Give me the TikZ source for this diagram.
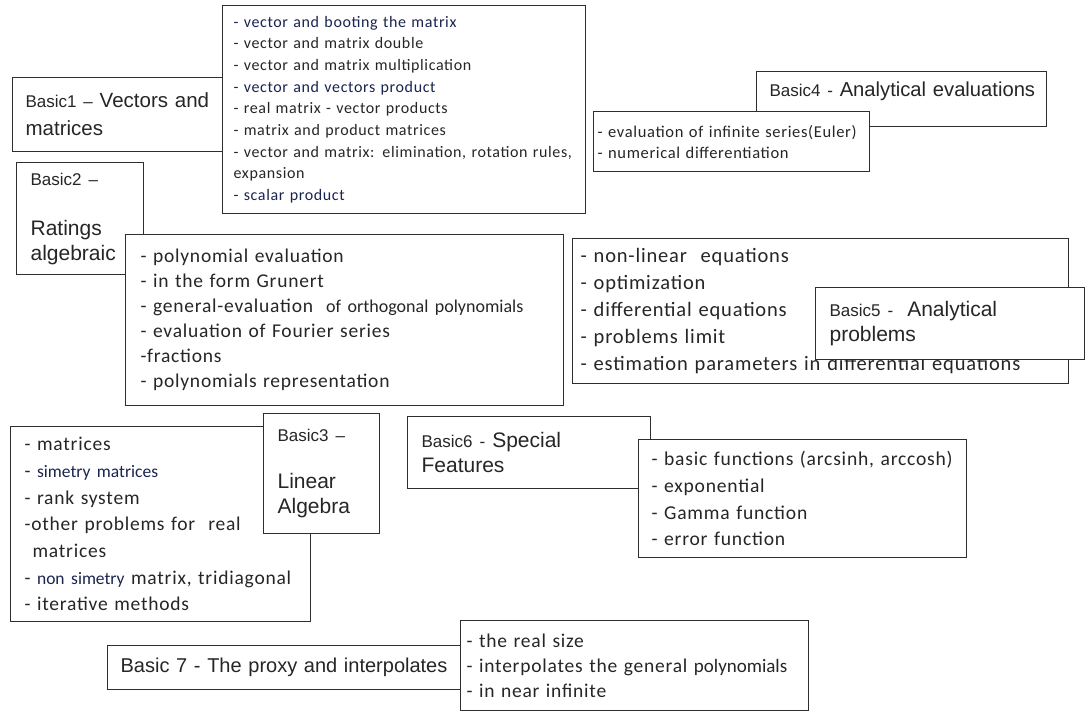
\documentclass[tikz,border=0pt]{standalone}
\usepackage{fontspec}
\usepackage{xcolor}
\usepackage{tikz}
\newfontfamily\arialf{Liberation Sans}
\newfontfamily\calif[LetterSpace=4]{Carlito}
\newfontfamily\calin{Carlito}
\definecolor{framegray}{RGB}{46,46,46}
\definecolor{inkgray}{RGB}{38,38,38}
\definecolor{inknavy}{RGB}{26,36,80}
\newcommand{\bnum}[1]{{\fontsize{17}{20}\selectfont #1}}
\newcommand{\hl}[1]{\textcolor{inknavy}{#1}}
\hyphenpenalty=10000
\exhyphenpenalty=10000

\begin{document}
\begin{tikzpicture}[
    x=1pt, y=-1pt,
    boxframe/.style={
      rectangle, draw=framegray, line width=1.2pt, fill=white,
      anchor=north west, align=left, inner ysep=0pt, text=inkgray
    },
    titlebox/.style={boxframe, font=\arialf\fontsize{21}{25}\selectfont, inner xsep=14pt},
    listbox/.style 2 args={boxframe, font=\calif\fontsize{#1}{#2}\selectfont}
  ]
    \fill[white] (0,0) rectangle (1085,711);
    \useasboundingbox (0,0) rectangle (1085,711);
    \node[titlebox, font=\arialf\fontsize{20.5}{28}\selectfont, inner xsep=13pt, text width=184pt, minimum height=74pt] (basic1) at (12,77) {\mbox{\bnum{Basic1 –} Vectors and}\\matrices};
    \node[listbox={16}{21.7}, inner xsep=11pt, text width=341pt, minimum height=208pt] (list1) at (222,5)
      {\hl{- vector and booting the matrix}\\- vector and matrix double\\- vector and matrix multiplication\\\hl{- vector and vectors product}\\- real matrix - vector products\\- matrix and product matrices\\- vector and matrix: elimination, rotation~rules,\\expansion\\\hl{- scalar product}};
    \node[titlebox, text width=99pt, minimum height=112pt] (basic2) at (16,162) {\bnum{Basic2 –}\\[25pt]Ratings\\algebraic};
    \node[listbox={19.5}{25}, inner xsep=15pt, text width=408pt, minimum height=171pt] (list2) at (125,234)
      {- polynomial evaluation\\- in the form Grunert\\- general-evaluation\ \ {\calin\fontsize{18}{25}\selectfont of orthogonal polynomials}\\- evaluation of Fourier series\\-fractions\\- polynomials representation};
    \node[titlebox, font=\arialf\fontsize{20.2}{25}\selectfont, inner xsep=13pt, text width=264pt, minimum height=55pt, text depth=20pt] (basic4) at (756,71) {\mbox{\bnum{Basic4 -} Analytical evaluations}};
    \node[listbox={16.5}{21}, inner xsep=4pt, text width=268pt, minimum height=60pt] (list4) at (593,111)
      {- evaluation of infinite series(Euler)\\- numerical differentiation};
    \node[listbox={20.5}{26.8}, inner xsep=8pt, text width=480pt, minimum height=145pt] (list5) at (572,238)
      {- non-linear\ \ equations\\- optimization\\- differential equations\\- problems limit\\- estimation parameters in differential equations};
    \node[titlebox, text width=241pt, minimum height=72pt] (basic5) at (815,287) {\mbox{\bnum{Basic5 -}\ \ Analytical}\\problems};
    \node[listbox={19.5}{26.7}, inner xsep=14pt, text width=272pt, minimum height=195pt] (list3) at (10,426)
      {- matrices\\- {\calin\fontsize{17.5}{26.7}\selectfont\hl{simetry matrices}}\\- rank system\\-other problems for\ \ real\\\hspace*{8pt}matrices\\- {\calin\fontsize{17.5}{26.7}\selectfont\hl{non simetry}} matrix, tridiagonal\\- iterative methods};
    \node[titlebox, text width=88pt, minimum height=120pt] (basic3) at (263,413) {\bnum{Basic3 –}\\[22pt]Linear\\Algebra};
    \node[titlebox, text width=215pt, minimum height=72pt] (basic6) at (407,416) {\mbox{\bnum{Basic6 -} Special}\\Features};
    \node[listbox={19.6}{26.7}, inner xsep=13pt, text width=302pt, minimum height=118pt] (list6) at (638,439)
      {- basic functions (arcsinh, arccosh)\\- exponential\\- Gamma function\\- error function};
    \node[titlebox, font=\arialf\fontsize{20}{25}\selectfont, inner xsep=13pt, text width=339pt, minimum height=44pt] (basic7) at (107,645) {\mbox{Basic 7 - The proxy and interpolates}};
    \node[listbox={19.5}{25}, inner xsep=6pt, text width=336pt, minimum height=90pt] (list7) at (460,620)
      {- the real size\\- interpolates the general {\calin\fontsize{19}{25}\selectfont polynomials}\\- in near infinite};
  \end{tikzpicture}
\end{document}
